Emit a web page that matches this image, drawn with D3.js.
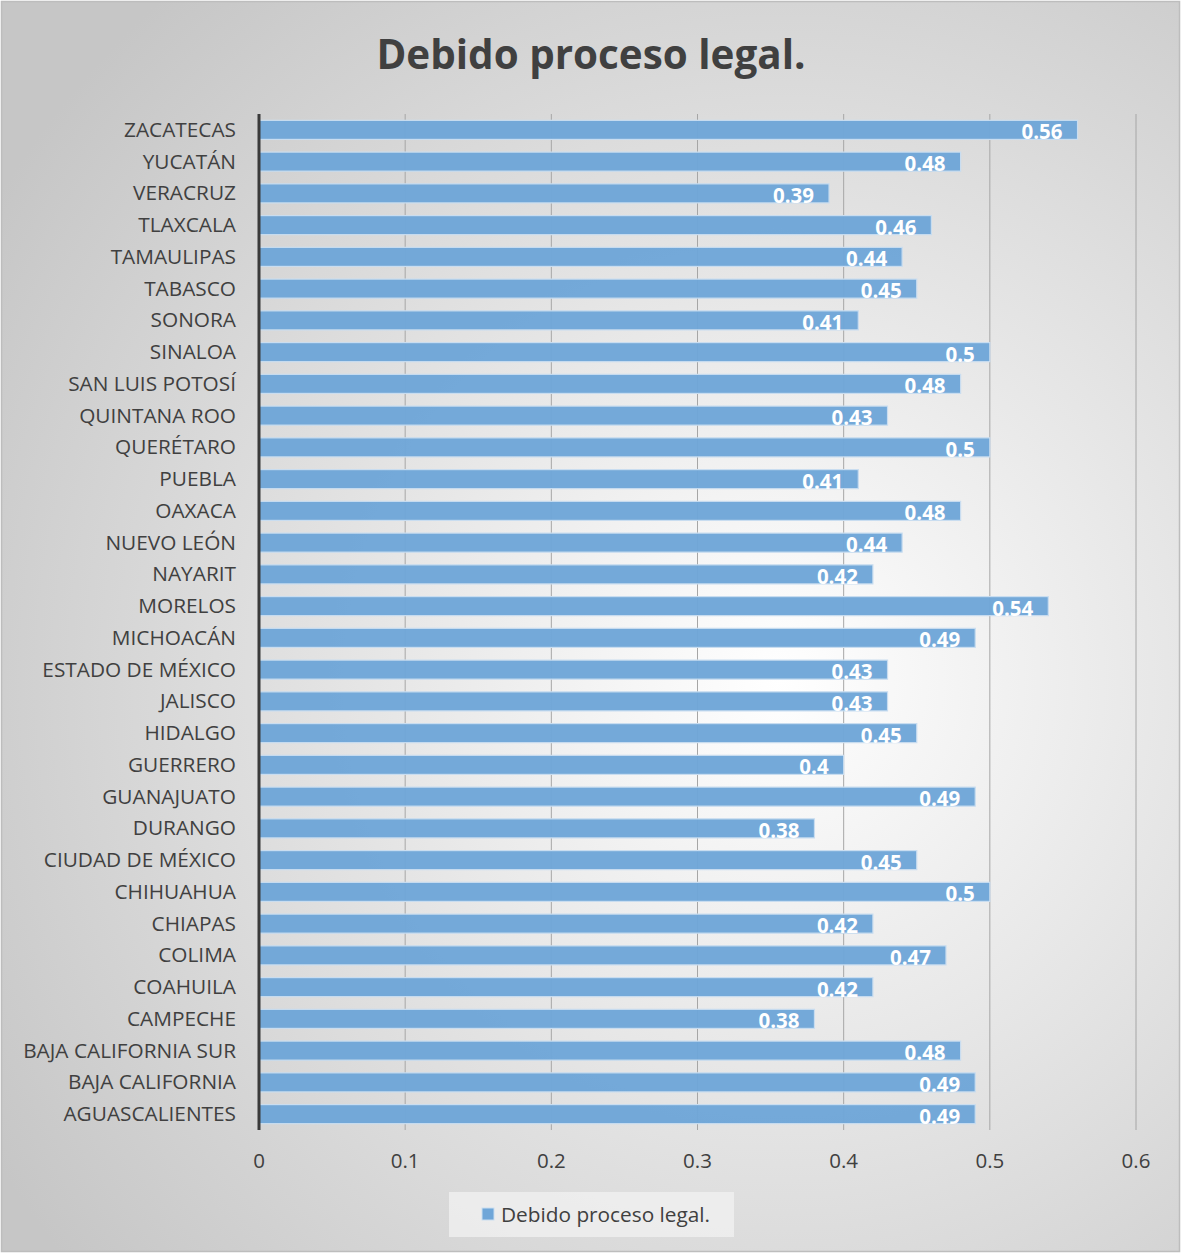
<!DOCTYPE html>
<html>
<head>
<meta charset="utf-8">
<script src="https://cdn.jsdelivr.net/npm/d3@7"></script>
<style>
  html, body { margin: 0; padding: 0; background: #ffffff; }
  svg { display: block; }
</style>
</head>
<body>
<script>
const categories = [
  "ZACATECAS","YUCATÁN","VERACRUZ","TLAXCALA","TAMAULIPAS","TABASCO","SONORA","SINALOA",
  "SAN LUIS POTOSÍ","QUINTANA ROO","QUERÉTARO","PUEBLA","OAXACA","NUEVO LEÓN","NAYARIT","MORELOS",
  "MICHOACÁN","ESTADO DE MÉXICO","JALISCO","HIDALGO","GUERRERO","GUANAJUATO","DURANGO","CIUDAD DE MÉXICO",
  "CHIHUAHUA","CHIAPAS","COLIMA","COAHUILA","CAMPECHE","BAJA CALIFORNIA SUR","BAJA CALIFORNIA","AGUASCALIENTES"
];
const values = [
  0.56,0.48,0.39,0.46,0.44,0.45,0.41,0.5,
  0.48,0.43,0.5,0.41,0.48,0.44,0.42,0.54,
  0.49,0.43,0.43,0.45,0.4,0.49,0.38,0.45,
  0.5,0.42,0.47,0.42,0.38,0.48,0.49,0.49
];
const tickValues = [0, 0.1, 0.2, 0.3, 0.4, 0.5, 0.6];
const tickLabels = ["0", "0.1", "0.2", "0.3", "0.4", "0.5", "0.6"];
const seriesName = "Debido proceso legal.";
const title = "Debido proceso legal.";

const W = 1181, H = 1253;
const font = "'Open Sans', sans-serif";
const textColor = "#404040";
const barColor = "#6fa6d8";

const svg = d3.select("body").append("svg").attr("width", W).attr("height", H);
const defs = svg.append("defs");
const grad = defs.append("radialGradient").attr("id", "bg")
  .attr("gradientUnits", "userSpaceOnUse")
  .attr("cx", 780).attr("cy", 680).attr("r", 920);
grad.append("stop").attr("offset", "0%").attr("stop-color", "#ffffff");
grad.append("stop").attr("offset", "100%").attr("stop-color", "#c6c6c6");

svg.append("rect").attr("x", 1.5).attr("y", 1.5).attr("width", W - 3).attr("height", H - 3)
  .attr("fill", "url(#bg)").attr("stroke", "#bdbdbd").attr("stroke-width", 1.5);

const x = d3.scaleLinear().domain([0, 0.6]).range([259, 1136]);
const y = d3.scaleBand().domain(categories).range([114, 1130]).paddingInner(0.4).paddingOuter(0.2);

// gridlines
svg.append("g").selectAll("line").data(tickValues.slice(1)).join("line")
  .attr("x1", d => x(d)).attr("x2", d => x(d))
  .attr("y1", 114).attr("y2", 1130)
  .attr("stroke", "#a6a6a6").attr("stroke-width", 1);

// bars
svg.append("g").selectAll("rect").data(values).join("rect")
  .attr("x", x(0))
  .attr("y", (d, i) => y(categories[i]))
  .attr("width", d => x(d) - x(0))
  .attr("height", y.bandwidth())
  .attr("fill", barColor).attr("fill-opacity", 0.97)
  .attr("stroke", "#c9ddf0").attr("stroke-width", 1.2);

// data labels
svg.append("g").selectAll("text").data(values).join("text")
  .attr("x", d => x(d) - 15)
  .attr("y", (d, i) => y(categories[i]) + y.bandwidth() / 2 + 9.5)
  .attr("text-anchor", "end")
  .attr("font-family", font).attr("font-weight", "bold").attr("font-size", 20.5)
  .attr("fill", "#ffffff")
  .text(d => String(d));

// y axis line
svg.append("line").attr("x1", 259).attr("x2", 259).attr("y1", 114).attr("y2", 1130)
  .attr("stroke", "#3a3a3a").attr("stroke-width", 3);

// category labels
svg.append("g").selectAll("text").data(categories).join("text")
  .attr("x", 236)
  .attr("y", d => y(d) + y.bandwidth() / 2 + 7)
  .attr("text-anchor", "end")
  .attr("font-family", font).attr("font-size", 20.8)
  .attr("fill", textColor)
  .text(d => d);

// x tick labels
svg.append("g").selectAll("text").data(tickValues).join("text")
  .attr("x", d => x(d))
  .attr("y", 1168)
  .attr("text-anchor", "middle")
  .attr("font-family", font).attr("font-size", 20.5)
  .attr("fill", textColor)
  .text((d, i) => tickLabels[i]);

// title
svg.append("text").attr("x", 591).attr("y", 69)
  .attr("text-anchor", "middle")
  .attr("font-family", font).attr("font-weight", "bold").attr("font-size", 40.4)
  .attr("fill", textColor)
  .text(title);

// legend
const lg = svg.append("g");
lg.append("rect").attr("x", 449).attr("y", 1192).attr("width", 285).attr("height", 45)
  .attr("fill", "#f2f2f2").attr("fill-opacity", 0.75);
lg.append("rect").attr("x", 482).attr("y", 1208).attr("width", 12).attr("height", 12)
  .attr("fill", barColor).attr("stroke", "#c9ddf0").attr("stroke-width", 1);
lg.append("text").attr("x", 501).attr("y", 1222)
  .attr("font-family", font).attr("font-size", 20.8)
  .attr("fill", textColor)
  .text(seriesName);
</script>
</body>
</html>
